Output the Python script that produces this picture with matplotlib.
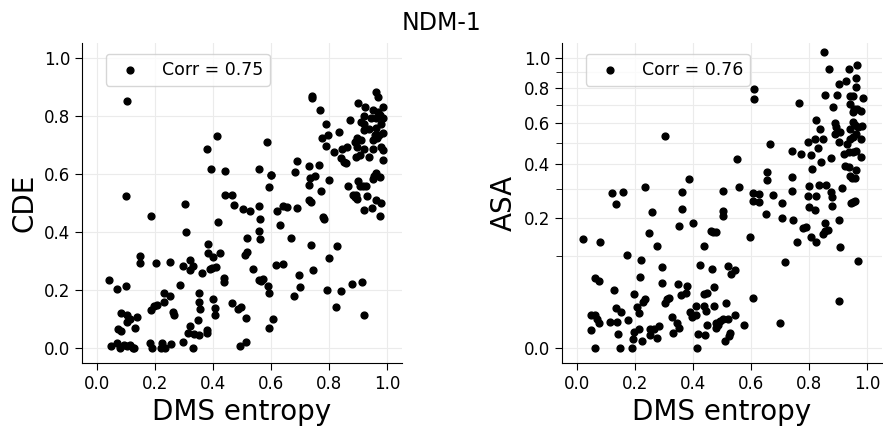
import numpy as np
import matplotlib
matplotlib.use("Agg")
import matplotlib.pyplot as plt

# DMS entropy vs CDE (left panel)
dms_cde = [
    0.05, 0.07, 0.08, 0.095, 0.104, 0.115, 0.126, 0.129, 0.183, 0.192, 0.221, 0.226, 0.234, 0.257,
    0.298, 0.331, 0.494, 0.514,
    0.074, 0.083, 0.083, 0.103, 0.105, 0.115, 0.133, 0.139, 0.187, 0.198, 0.209, 0.231, 0.233, 0.251,
    0.264, 0.265, 0.288, 0.32, 0.314, 0.335, 0.351, 0.349, 0.355, 0.352, 0.351, 0.381, 0.381, 0.402,
    0.406, 0.406, 0.466, 0.486, 0.497, 0.513, 0.594, 0.605, 0.593, 0.589, 0.573, 0.56, 0.566,
    0.043, 0.069, 0.101, 0.15, 0.15, 0.206, 0.251, 0.298, 0.32, 0.322, 0.331, 0.363, 0.383, 0.382,
    0.40, 0.389, 0.398, 0.41, 0.426, 0.437, 0.438, 0.509, 0.518, 0.517, 0.537, 0.618, 0.641, 0.669,
    0.696, 0.701, 0.678, 0.737, 0.744, 0.792, 0.80, 0.826, 0.842, 0.879, 0.913, 0.92, 0.823,
    0.101, 0.186, 0.303, 0.307, 0.416, 0.44, 0.466, 0.472, 0.504, 0.526, 0.558, 0.562, 0.558, 0.563,
    0.593, 0.598, 0.621, 0.63, 0.64, 0.655, 0.689, 0.731, 0.733, 0.752, 0.766, 0.73, 0.737, 0.771,
    0.779, 0.783, 0.80, 0.683, 0.689, 0.731,
    0.379, 0.413, 0.395, 0.44, 0.557, 0.585, 0.60, 0.776, 0.79, 0.795, 0.789, 0.815, 0.834, 0.842,
    0.851, 0.859, 0.845, 0.861, 0.87, 0.888, 0.894, 0.896, 0.91, 0.92, 0.904, 0.893, 0.938, 0.952,
    0.977, 0.983, 0.984, 0.957, 0.971, 0.983, 0.963, 0.952, 0.938, 0.92, 0.959, 0.979, 0.943, 0.959,
    0.984, 0.918, 0.909, 0.918, 0.974, 0.966, 0.95, 0.923, 0.986, 0.899, 0.962, 0.969, 0.739, 0.739,
    0.768, 0.104,
    0.864, 0.899, 0.906, 0.917, 0.927, 0.952, 0.959, 0.954, 0.974, 0.88, 0.888, 0.895, 0.893, 0.931,
    0.92, 0.947, 0.962, 0.977, 0.974,
]
cde = [
    0.01, 0.02, 0.00, 0.013, 0.01, 0.012, 0.00, 0.002, 0.02, 0.00, 0.00, 0.02, 0.001, 0.014,
    0.022, 0.00, 0.01, 0.023,
    0.068, 0.06, 0.121, 0.115, 0.092, 0.10, 0.071, 0.109, 0.132, 0.146, 0.15, 0.158, 0.189, 0.181,
    0.125, 0.115, 0.219, 0.077, 0.052, 0.049, 0.046, 0.098, 0.135, 0.16, 0.19, 0.063, 0.052, 0.171,
    0.14, 0.114, 0.155, 0.137, 0.144, 0.105, 0.07, 0.10, 0.192, 0.215, 0.24, 0.236, 0.232,
    0.234, 0.203, 0.214, 0.319, 0.293, 0.295, 0.296, 0.282, 0.27, 0.305, 0.284, 0.258, 0.359, 0.328,
    0.315, 0.273, 0.277, 0.28, 0.328, 0.241, 0.229, 0.321, 0.33, 0.379, 0.273, 0.287, 0.29, 0.38,
    0.252, 0.211, 0.18, 0.356, 0.268, 0.201, 0.311, 0.352, 0.199, 0.223, 0.23, 0.114, 0.143,
    0.524, 0.457, 0.495, 0.402, 0.436, 0.526, 0.526, 0.494, 0.478, 0.471, 0.488, 0.445, 0.404, 0.376,
    0.555, 0.597, 0.471, 0.425, 0.491, 0.487, 0.482, 0.563, 0.586, 0.593, 0.631, 0.511, 0.503, 0.54,
    0.451, 0.445, 0.579, 0.606, 0.643, 0.626,
    0.686, 0.731, 0.618, 0.61, 0.618, 0.71, 0.597, 0.724, 0.697, 0.734, 0.77, 0.677, 0.745, 0.655,
    0.641, 0.639, 0.687, 0.692, 0.784, 0.711, 0.693, 0.724, 0.715, 0.687, 0.664, 0.657, 0.658, 0.687,
    0.694, 0.681, 0.648, 0.733, 0.735, 0.739, 0.722, 0.716, 0.755, 0.75, 0.758, 0.771, 0.793, 0.793,
    0.791, 0.799, 0.779, 0.77, 0.804, 0.814, 0.82, 0.83, 0.829, 0.843, 0.88, 0.864, 0.869, 0.862,
    0.818, 0.852,
    0.558, 0.574, 0.56, 0.557, 0.56, 0.583, 0.604, 0.593, 0.591, 0.526, 0.52, 0.514, 0.528, 0.524,
    0.475, 0.483, 0.511, 0.501, 0.457,
]

# DMS entropy vs ASA (right panel)
dms_asa = [
    0.852, 0.867, 0.937, 0.963, 0.926, 0.903, 0.96, 0.96, 0.983, 0.94, 0.951, 0.895, 0.854, 0.88,
    0.941, 0.954, 0.963, 0.977, 0.949, 0.823, 0.837, 0.889, 0.892, 0.887, 0.905, 0.846, 0.82, 0.795,
    0.903, 0.949, 0.958, 0.981, 0.969, 0.94, 0.962, 0.949, 0.941, 0.977, 0.928, 0.918, 0.937, 0.949,
    0.96, 0.977, 0.83, 0.74, 0.771, 0.806, 0.842, 0.875, 0.808, 0.924, 0.937, 0.94, 0.946, 0.96,
    0.958, 0.914, 0.80, 0.835, 0.857, 0.875, 0.878, 0.878, 0.795, 0.823, 0.741, 0.739, 0.677, 0.656,
    0.656, 0.664, 0.61, 0.61, 0.763, 0.607, 0.626, 0.607, 0.627, 0.652, 0.707, 0.707, 0.743, 0.80,
    0.821, 0.901, 0.943, 0.949, 0.958, 0.757, 0.778, 0.789, 0.806, 0.823, 0.848, 0.855, 0.863, 0.854,
    0.906, 0.966, 0.718, 0.903, 0.70, 0.608, 0.596,
    0.021, 0.079, 0.122, 0.158, 0.137, 0.235, 0.259, 0.249, 0.278, 0.174, 0.221, 0.217, 0.294, 0.294,
    0.063, 0.076, 0.128, 0.136, 0.154, 0.176, 0.141, 0.116, 0.139, 0.048, 0.062, 0.071, 0.078, 0.05,
    0.064, 0.151, 0.192, 0.195, 0.198, 0.226, 0.214, 0.208, 0.216, 0.198, 0.236, 0.227, 0.251, 0.253,
    0.265, 0.276, 0.283, 0.304, 0.31, 0.318, 0.327, 0.331, 0.344, 0.352, 0.35, 0.358, 0.379, 0.376,
    0.39, 0.398, 0.41, 0.41, 0.414, 0.417, 0.44, 0.448, 0.438, 0.445, 0.471, 0.473, 0.439, 0.45,
    0.425, 0.467, 0.437, 0.462, 0.47, 0.479, 0.401, 0.385, 0.364, 0.361, 0.353, 0.304, 0.502, 0.504,
    0.502, 0.552, 0.559, 0.519, 0.532, 0.545, 0.513, 0.479, 0.493, 0.502, 0.519, 0.528, 0.523, 0.511,
    0.544, 0.574, 0.487, 0.478,
]
asa = [
    1.04, 0.925, 0.925, 0.948, 0.846, 0.829, 0.867, 0.808, 0.741, 0.753, 0.753, 0.761, 0.761, 0.689,
    0.704, 0.679, 0.679, 0.664, 0.66, 0.618, 0.57, 0.60, 0.582, 0.545, 0.556, 0.519, 0.516, 0.503,
    0.503, 0.606, 0.588, 0.584, 0.579, 0.57, 0.545, 0.528, 0.519, 0.519, 0.495, 0.448, 0.455, 0.455,
    0.463, 0.435, 0.477, 0.463, 0.448, 0.443, 0.413, 0.429, 0.381, 0.395, 0.388, 0.353, 0.342, 0.378,
    0.342, 0.304, 0.313, 0.317, 0.317, 0.291, 0.272, 0.241, 0.276, 0.276, 0.294, 0.348, 0.28, 0.367,
    0.336, 0.493, 0.798, 0.735, 0.714, 0.286, 0.282, 0.258, 0.252, 0.213, 0.249, 0.201, 0.196, 0.235,
    0.226, 0.195, 0.249, 0.252, 0.258, 0.133, 0.172, 0.175, 0.146, 0.134, 0.154, 0.164, 0.166, 0.185,
    0.121, 0.091, 0.089, 0.027, 0.0078, 0.0305, 0.147,
    0.142, 0.135, 0.287, 0.291, 0.248, 0.309, 0.221, 0.157, 0.123, 0.104, 0.093, 0.061, 0.078, 0.051,
    0.058, 0.053, 0.04, 0.019, 0.016, 0.0093, 0.0024, 0.008, 0.008, 0.0135, 0.0135, 0.0105, 0.0078, 0.004,
    0.0, 0.0, 0.0, 0.001, 0.0032, 0.0006, 0.0046, 0.0203, 0.0151, 0.0347, 0.0293, 0.0255, 0.0046, 0.0021,
    0.0043, 0.0013, 0.0059, 0.0248, 0.0285, 0.0305, 0.0119, 0.0029, 0.0078, 0.0051, 0.0487, 0.0334, 0.0462, 0.0368,
    0.0157, 0.0117, 0.0129, 0.0213, 0.0, 0.0024, 0.002, 0.0063, 0.0213, 0.0166, 0.0213, 0.0447, 0.0347, 0.0368,
    0.0819, 0.0742, 0.1245, 0.1637, 0.1609, 0.1591, 0.1868, 0.3396, 0.2881, 0.2297, 0.176, 0.531, 0.2943, 0.2221,
    0.2082, 0.4248, 0.3069, 0.0806, 0.0651, 0.0723, 0.0241, 0.0078, 0.0089, 0.0105, 0.01, 0.0029, 0.0018, 0.0007,
    0.0135, 0.0065, 0.0063, 0.0051,
]

corr_cde = 0.75
corr_asa = 0.76
ticks = [0.0, 0.2, 0.4, 0.6, 0.8, 1.0]
minor_asa = [0.1, 0.3, 0.5, 0.7, 0.9]


# sqrt scale for ASA, sign-safe so the lower margin works
def fwd(v):
    v = np.asarray(v, dtype=float)
    return np.sign(v) * np.sqrt(np.abs(v))


def inv(s):
    s = np.asarray(s, dtype=float)
    return np.sign(s) * s ** 2


plt.rcParams["font.family"] = "DejaVu Sans"
fig = plt.figure(figsize=(8.83, 4.32), dpi=100)
ax1 = fig.add_axes([82 / 883, 69 / 432, 320 / 883, 320 / 432])
ax2 = fig.add_axes([562 / 883, 69 / 432, 320 / 883, 320 / 432])

grid_kw = dict(color="#ebebeb", linewidth=0.8)

for ax, x, y, corr, ylab in [(ax1, dms_cde, cde, corr_cde, "CDE"),
                             (ax2, dms_asa, asa, corr_asa, "ASA")]:
    ax.set_axisbelow(True)
    ax.scatter(x, y, s=24, color="black", label=f"Corr = {corr:.2f}")
    ax.set_xlim(-0.05, 1.05)
    ax.set_xticks(ticks)
    ax.set_xlabel("DMS entropy", fontsize=20)
    ax.set_ylabel(ylab, fontsize=20)
    ax.tick_params(labelsize=12, length=5)
    ax.spines["top"].set_visible(False)
    ax.spines["right"].set_visible(False)
    ax.grid(True, **grid_kw)
    ax.legend(loc="upper left", bbox_to_anchor=(0.075, 0.966), borderaxespad=0,
              fontsize=12.5, handletextpad=0.8, scatterpoints=1)

ax1.set_ylim(-0.05, 1.05)
ax1.set_yticks(ticks)

ax2.set_yscale("function", functions=(fwd, inv))
ax2.set_ylim(inv(-0.05), inv(1.05))
ax2.set_yticks(ticks)
ax2.set_yticks(minor_asa, minor=True)
ax2.tick_params(axis="y", which="minor", length=4)
ax2.yaxis.grid(True, which="minor", **grid_kw)

fig.suptitle("NDM-1", fontsize=17, y=0.975)

fig.savefig("out.png", dpi=100)
